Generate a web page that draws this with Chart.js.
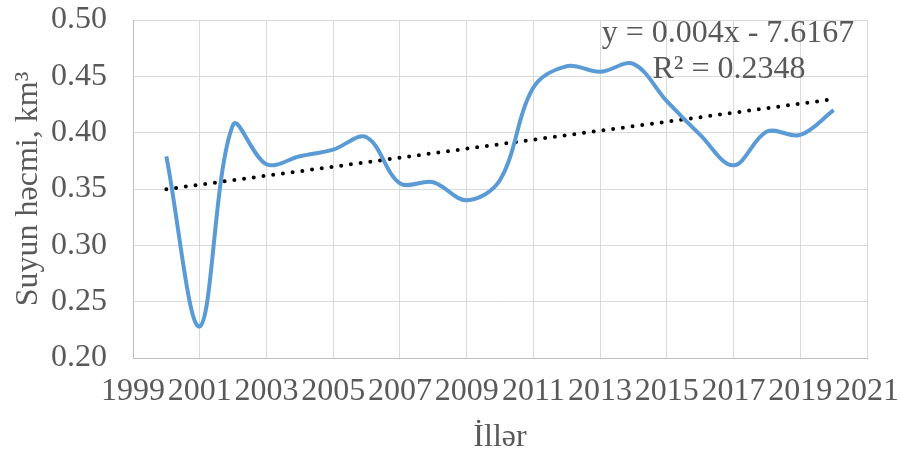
<!DOCTYPE html>
<html>
<head>
<meta charset="utf-8">
<script src="https://cdn.jsdelivr.net/npm/chart.js@4"></script>
<style>
  html, body { margin: 0; padding: 0; background: #fff; }
  #wrap { width: 900px; height: 457px; }
</style>
</head>
<body>
<div id="wrap"><canvas id="volumeChart" width="900" height="457"></canvas></div>
<script>
// Years and water volume (km3)
const years = [2000, 2001, 2002, 2003, 2004, 2005, 2006, 2007, 2008, 2009, 2010,
               2011, 2012, 2013, 2014, 2015, 2016, 2017, 2018, 2019, 2020];
const volumes = [0.379, 0.228, 0.407, 0.372, 0.379, 0.385, 0.396, 0.355, 0.356, 0.340, 0.358,
                 0.440, 0.459, 0.454, 0.461, 0.428, 0.398, 0.371, 0.401, 0.398, 0.420];
const yTicks = [0.20, 0.25, 0.30, 0.35, 0.40, 0.45, 0.50];
const xTicks = [1999, 2001, 2003, 2005, 2007, 2009, 2011, 2013, 2015, 2017, 2019, 2021];
const trendLabel = ['y = 0.004x - 7.6167', 'R\u00b2 = 0.2348'];

// Least squares trend line, like the spreadsheet one
function linearFit(xs, ys) {
  const n = xs.length;
  const mx = xs.reduce((a, b) => a + b, 0) / n;
  const my = ys.reduce((a, b) => a + b, 0) / n;
  let sxy = 0, sxx = 0;
  xs.forEach((x, i) => {
    sxy += (x - mx) * (ys[i] - my);
    sxx += (x - mx) * (x - mx);
  });
  const slope = sxy / sxx;
  return x => my + slope * (x - mx);
}
const fit = linearFit(years, volumes);
const firstYear = years[0];
const lastYear = years[years.length - 1];

const FONT = "'Liberation Serif', 'Times New Roman', serif";
const GREY = '#595959';

// Draws the equation text in the top right corner
const equationPlugin = {
  id: 'equation',
  afterDatasetsDraw: (chart) => {
    const { ctx } = chart;
    ctx.save();
    ctx.fillStyle = GREY;
    ctx.font = '32px ' + FONT;
    ctx.textAlign = 'center';
    ctx.textBaseline = 'alphabetic';
    ctx.fillText(trendLabel[0], 728, 42);
    ctx.fillText(trendLabel[1], 729, 78);
    ctx.restore();
  }
};

const ctx = document.getElementById('volumeChart').getContext('2d');
new Chart(ctx, {
  type: 'line',
  data: {
    datasets: [
      {
        label: 'Suyun həcmi',
        data: years.map((y, i) => ({ x: y, y: volumes[i] })),
        borderColor: '#5b9bd5',
        borderWidth: 4,
        pointRadius: 0,
        tension: 0.35,
        fill: false
      },
      {
        label: 'Trend',
        data: [{ x: firstYear, y: fit(firstYear) }, { x: lastYear, y: fit(lastYear) }],
        borderColor: '#000',
        borderWidth: 4,
        borderDash: [0, 9.8],
        borderCapStyle: 'round',
        pointRadius: 0,
        fill: false
      }
    ]
  },
  options: {
    responsive: false,
    animation: false,
    layout: { padding: { top: 20, right: 33, left: 0, bottom: 0 } },
    plugins: {
      legend: { display: false },
      tooltip: { enabled: false }
    },
    scales: {
      x: {
        type: 'linear',
        min: 1999,
        max: 2021,
        afterBuildTicks: (scale) => { scale.ticks = xTicks.map(v => ({ value: v })); },
        afterFit: (scale) => {
          scale.height = 99;
          scale.paddingLeft = 0;
          scale.paddingRight = 0;
        },
        ticks: {
          autoSkip: false,
          maxRotation: 0,
          padding: 14,
          color: GREY,
          font: { family: FONT, size: 32 },
          callback: v => String(v)
        },
        grid: { color: '#d9d9d9', lineWidth: 1, drawTicks: false },
        border: { color: '#bfbfbf', width: 1 },
        title: {
          display: true,
          text: 'İllər',
          color: GREY,
          font: { family: FONT, size: 32 },
          padding: { top: 0, bottom: 0 }
        }
      },
      y: {
        min: 0.20,
        max: 0.50,
        afterBuildTicks: (scale) => { scale.ticks = yTicks.map(v => ({ value: v })); },
        afterFit: (scale) => {
          scale.width = 133;
          scale.paddingTop = 0;
          scale.paddingBottom = 0;
        },
        ticks: {
          padding: 26,
          color: GREY,
          font: { family: FONT, size: 32 },
          callback: v => Number(v).toFixed(2)
        },
        grid: { color: '#d9d9d9', lineWidth: 1, drawTicks: false },
        border: { color: '#bfbfbf', width: 1 },
        title: {
          display: true,
          text: 'Suyun həcmi, km³',
          color: GREY,
          font: { family: FONT, size: 32 },
          padding: { top: 9, bottom: 0 }
        }
      }
    }
  },
  plugins: [equationPlugin]
});
</script>
</body>
</html>
